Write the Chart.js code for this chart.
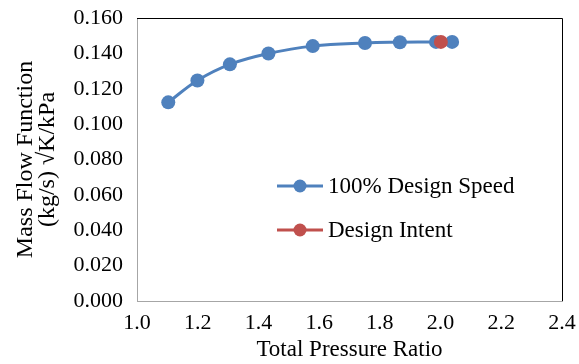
<!DOCTYPE html>
<html>
<head>
<meta charset="utf-8">
<script src="https://cdn.jsdelivr.net/npm/chart.js@4/dist/chart.umd.min.js"></script>
<style>
  html, body { margin: 0; padding: 0; background: #fff; }
  #wrap { width: 579px; height: 364px; }
</style>
</head>
<body>
<div id="wrap"><canvas id="chart" width="579" height="364"></canvas></div>
<script>
// speed line: pressure ratio vs mass flow function
const pressureRatio = [1.103, 1.199, 1.306, 1.433, 1.579, 1.751, 1.866, 1.985, 2.038];
const massFlow = [0.1123, 0.1247, 0.1338, 0.1399, 0.1441, 0.1459, 0.1463, 0.1465, 0.1465];

// design point
const intentRatio = [2.001];
const intentFlow = [0.1465];

const seriesNames = ['100% Design Speed', 'Design Intent'];
const xTicks = [1.0, 1.2, 1.4, 1.6, 1.8, 2.0, 2.2, 2.4];
const yTicks = [0, 0.02, 0.04, 0.06, 0.08, 0.1, 0.12, 0.14, 0.16];

const BLUE = '#4F81BD';
const RED = '#C0504D';
const FONT = '"Liberation Serif", "Times New Roman", serif';
const SIZE = 22;

const toPoints = (xs, ys) => xs.map((x, i) => ({ x: x, y: ys[i] }));

// black frame on top/right, legend sitting inside the plot
const framePlugin = {
  id: 'frame',
  beforeDatasetsDraw(chart) {
    const { ctx, chartArea: a } = chart;
    ctx.save();
    ctx.strokeStyle = '#000';
    ctx.lineWidth = 1;
    ctx.beginPath();
    ctx.moveTo(a.left, a.top + 0.5);
    ctx.lineTo(a.right + 0.5, a.top + 0.5);
    ctx.lineTo(a.right + 0.5, a.bottom);
    ctx.stroke();
    ctx.restore();
  }
};

const legendPlugin = {
  id: 'insideLegend',
  afterDraw(chart) {
    const { ctx, chartArea: a } = chart;
    const x0 = a.left + 140;
    const rows = [a.top + 168, a.top + 212];
    ctx.save();
    ctx.font = '23px ' + FONT;
    ctx.textBaseline = 'middle';
    chart.data.datasets.forEach((ds, i) => {
      const y = rows[i];
      ctx.strokeStyle = ds.borderColor;
      ctx.lineWidth = 3;
      ctx.beginPath();
      ctx.moveTo(x0, y);
      ctx.lineTo(x0 + 46, y);
      ctx.stroke();
      ctx.fillStyle = ds.backgroundColor;
      ctx.beginPath();
      ctx.arc(x0 + 23, y, 6.5, 0, Math.PI * 2);
      ctx.fill();
      ctx.fillStyle = '#000';
      ctx.fillText(ds.label, x0 + 51, y + 1);
    });
    ctx.restore();
  }
};

new Chart(document.getElementById('chart'), {
  type: 'scatter',
  data: {
    datasets: [{
      label: seriesNames[0],
      data: toPoints(pressureRatio, massFlow),
      showLine: true,
      borderColor: BLUE,
      backgroundColor: BLUE,
      borderWidth: 3,
      pointRadius: 7,
      pointBorderWidth: 0,
      tension: 0.4,
      order: 2
    }, {
      label: seriesNames[1],
      data: toPoints(intentRatio, intentFlow),
      borderColor: RED,
      backgroundColor: RED,
      pointRadius: 7,
      pointBorderWidth: 0,
      order: 1
    }]
  },
  options: {
    responsive: false,
    animation: false,
    layout: { padding: { left: 0, top: 18, right: 17, bottom: 0 } },
    plugins: {
      legend: { display: false },
      tooltip: { enabled: false }
    },
    scales: {
      x: {
        type: 'linear',
        min: 1.0,
        max: 2.4,
        afterBuildTicks: (s) => { s.ticks = xTicks.map(v => ({ value: v })); },
        afterFit: (s) => { s.height = 63; s.paddingRight = 0; s.paddingLeft = 0; },
        grid: { display: false, drawTicks: false },
        border: { color: '#a6a6a6', width: 1 },
        ticks: {
          padding: 9,
          color: '#000',
          font: { family: FONT, size: SIZE },
          callback: (v) => Number(v).toFixed(1)
        },
        title: {
          display: true,
          text: 'Total Pressure Ratio',
          color: '#000',
          font: { family: FONT, size: 23 },
          padding: { top: 1, bottom: 0 }
        }
      },
      y: {
        type: 'linear',
        min: 0,
        max: 0.16,
        afterBuildTicks: (s) => { s.ticks = yTicks.map(v => ({ value: v })); },
        afterFit: (s) => { s.width = 137; s.paddingTop = 0; s.paddingBottom = 0; },
        grid: { display: false, drawTicks: false },
        border: { color: '#a6a6a6', width: 1 },
        ticks: {
          padding: 14,
          color: '#000',
          font: { family: FONT, size: SIZE },
          callback: (v) => Number(v).toFixed(3)
        },
        title: {
          display: true,
          text: ['Mass Flow Function', '(kg/s) \u221AK/kPa'],
          color: '#000',
          font: { family: FONT, size: 24, lineHeight: 0.9 },
          padding: { top: 15, bottom: 0 }
        }
      }
    }
  },
  plugins: [framePlugin, legendPlugin]
});
</script>
</body>
</html>
